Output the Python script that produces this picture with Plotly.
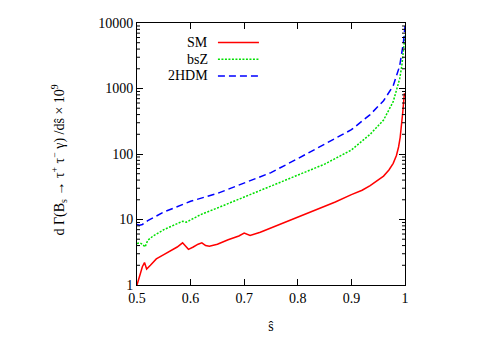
import math
import plotly.graph_objs as go

# dilepton invariant mass fraction s-hat and differential rates (x 1e9)
s_sm = [0.500, 0.505, 0.510, 0.514, 0.518, 0.525, 0.536, 0.550, 0.562, 0.575, 0.585,
        0.590, 0.596, 0.605, 0.614, 0.621, 0.628, 0.635, 0.650, 0.670, 0.690, 0.700,
        0.705, 0.711, 0.730, 0.760, 0.800, 0.840, 0.870, 0.900, 0.920, 0.935, 0.950,
        0.960, 0.970, 0.978, 0.984, 0.988, 0.991, 0.994, 0.996, 0.998, 0.999]
sm = [1.0, 1.4, 1.9, 2.2, 1.75, 2.0, 2.5, 2.9, 3.3, 3.8, 4.4,
      3.9, 3.5, 3.8, 4.2, 4.4, 4.0, 3.9, 4.2, 4.9, 5.6, 6.2,
      5.9, 5.7, 6.4, 8.0, 11, 14.5, 18.5, 24, 28, 33, 40,
      46, 57, 72, 95, 128, 180, 285, 450, 700, 850]

s_bsz = [0.500, 0.505, 0.510, 0.515, 0.520, 0.530, 0.550, 0.570, 0.585, 0.592, 0.600,
         0.620, 0.650, 0.700, 0.750, 0.800, 0.850, 0.900, 0.935, 0.960, 0.978, 0.990,
         0.994, 0.998, 1.000]
bsz = [4.3, 4.4, 4.2, 3.8, 4.8, 5.6, 7.0, 8.3, 9.4, 9.1, 9.8,
       12, 15, 22, 32, 47, 70, 115, 200, 330, 630, 1400,
       2200, 4500, 6500]

s_2hdm = [0.500, 0.505, 0.510, 0.520, 0.550, 0.585, 0.600, 0.650, 0.700, 0.750, 0.800,
          0.850, 0.900, 0.935, 0.960, 0.978, 0.990, 0.997, 1.000]
hdm = [8.4, 8.2, 8.4, 9.6, 13, 17, 19, 25, 36, 52, 85,
       140, 235, 400, 650, 1100, 2200, 5000, 9000]

series = [
    ("SM", s_sm, sm, "#ff0000", "solid"),
    ("bsZ", s_bsz, bsz, "#00e000", "2px,1.5px"),
    ("2HDM", s_2hdm, hdm, "#0000ff", "7px,4px"),
]

FONT = "Liberation Serif"
Y_DECADES = 4  # y axis runs 1 .. 10^4

fig = go.Figure()
for name, xs, ys, color, dash in series:
    fig.add_trace(go.Scatter(x=xs, y=ys, mode="lines", name=name,
                             line={"color": color, "width": 1.5, "dash": dash}))

# gnuplot-style legend: label on the left, line sample on the right
for i, (name, _, _, color, dash) in enumerate(series):
    yp = 0.926 - i * 0.064
    fig.add_annotation(x=0.272, y=yp, xref="paper", yref="paper", text=name,
                       showarrow=False, xanchor="right", yanchor="middle",
                       font={"family": FONT, "size": 14, "color": "black"})
    fig.add_shape(type="line", xref="paper", yref="paper",
                  x0=0.302, x1=0.455, y0=yp, y1=yp,
                  line={"color": color, "width": 1.5, "dash": dash})

# log minor ticks (2..9 per decade) on both vertical borders
tick_w = 3 / 268
for d in range(Y_DECADES):
    for m in range(2, 10):
        yp = (d + math.log10(m)) / Y_DECADES
        for x0, x1 in ((0, tick_w), (1 - tick_w, 1)):
            fig.add_shape(type="line", xref="paper", yref="paper",
                          x0=x0, x1=x1, y0=yp, y1=yp,
                          line={"color": "black", "width": 1})

fig.add_annotation(
    x=-0.335, y=0.476, xref="paper", yref="paper", textangle=-90, showarrow=False,
    text="d Γ(B<sub>s</sub> → τ<sup>+</sup> τ<sup>−</sup> γ) /dŝ × 10<sup>9</sup>",
    font={"family": FONT, "size": 14, "color": "black"},
)

# page body has an 8px margin, so pull the plot area up/left by that much
fig.update_layout(
    width=495, height=346,
    margin={"l": 129, "r": 98, "t": 8, "b": 69},
    paper_bgcolor="white", plot_bgcolor="white",
    showlegend=False,
    font={"family": FONT, "size": 14, "color": "black"},
)
fig.update_xaxes(
    range=[0.5, 1.0], tickvals=[0.5, 0.6, 0.7, 0.8, 0.9, 1.0],
    ticktext=["0.5", "0.6", "0.7", "0.8", "0.9", "1"],
    ticks="inside", ticklen=6, tickcolor="black", showline=True, linecolor="black",
    linewidth=1, mirror="ticks", showgrid=False, zeroline=False,
    title={"text": "ŝ", "standoff": 16, "font": {"family": FONT, "size": 14}},
)
fig.update_yaxes(
    type="log", range=[0, Y_DECADES], tickmode="linear", tick0=0, dtick=1,
    tickformat="d", ticks="inside", ticklen=6, tickcolor="black",
    showline=True, linecolor="black", linewidth=1, mirror="ticks",
    showgrid=False, zeroline=False,
)

fig.write_html("out.html")
